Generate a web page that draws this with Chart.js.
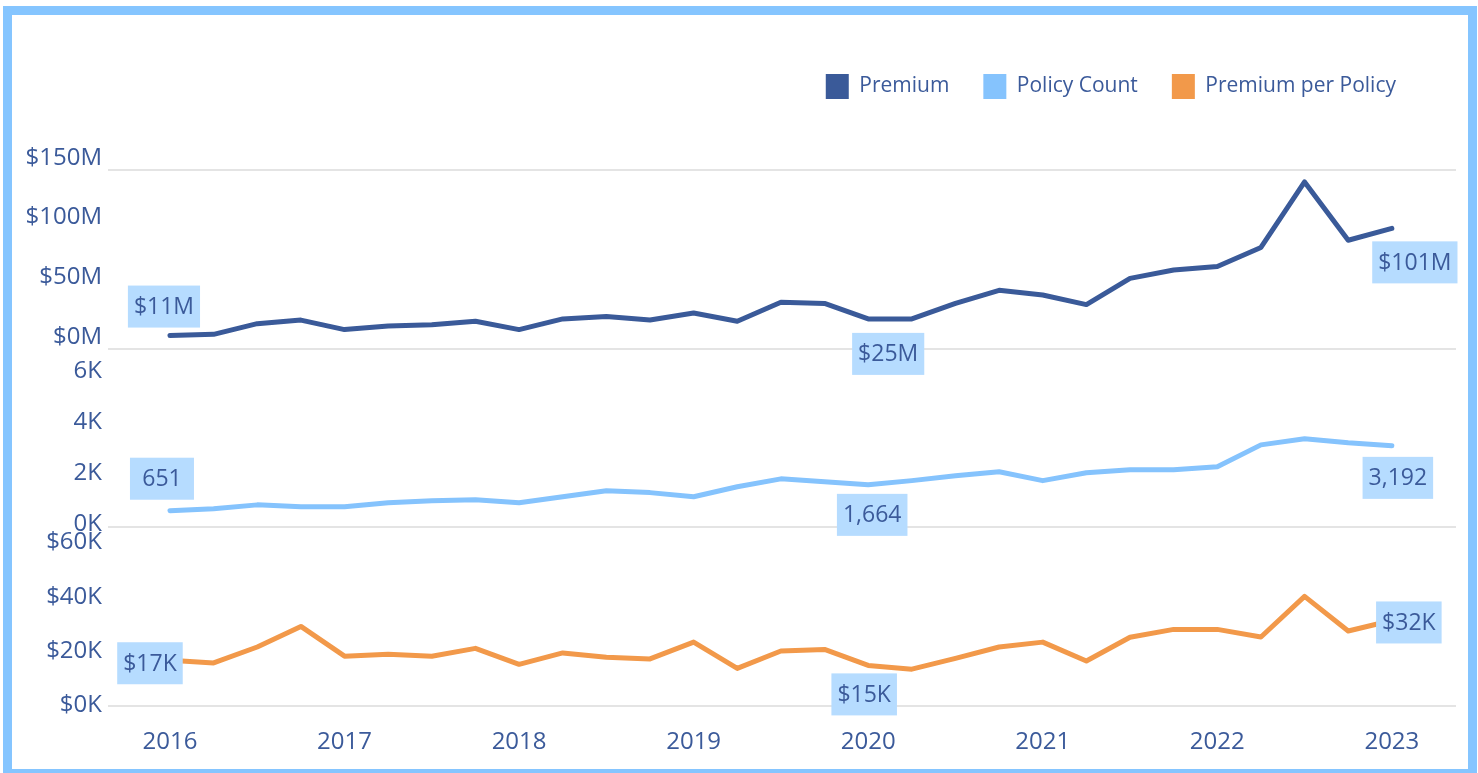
<!DOCTYPE html>
<html>
<head>
<meta charset="utf-8">
<script src="https://cdn.jsdelivr.net/npm/chart.js@4.4.0/dist/chart.umd.min.js"></script>
<style>
    html, body { margin: 0; padding: 0; background: #fff; }
    #wrap { position: relative; width: 1478px; height: 773px; overflow: hidden; }
    #frame { position: absolute; left: 3px; top: 6px; width: 1474px; height: 772px; box-sizing: border-box; border: 9px solid #85c5ff; pointer-events: none; }
    #grafico { position: absolute; left: 0; top: 0; }
</style>
</head>
<body>
<div id="wrap">
    <canvas id="grafico" width="1478" height="773" style="width:1478px;height:773px"></canvas>
    <div id="frame"></div>
</div>
<script>
// quarters on the x axis
var quarters = ['2016 Q1', '2016 Q2', '2016 Q3', '2016 Q4',
    '2017 Q1', '2017 Q2', '2017 Q3', '2017 Q4',
    '2018 Q1', '2018 Q2', '2018 Q3', '2018 Q4',
    '2019 Q1', '2019 Q2', '2019 Q3', '2019 Q4',
    '2020 Q1', '2020 Q2', '2020 Q3', '2020 Q4',
    '2021 Q1', '2021 Q2', '2021 Q3', '2021 Q4',
    '2022 Q1', '2022 Q2', '2022 Q3', '2022 Q4',
    '2023 Q1'];

// premium in $M
var premium = [11, 12, 21, 24, 16, 19, 20, 23, 16, 25, 27, 24, 30, 23, 39, 38, 25, 25, 38, 49, 45, 37, 59, 66, 69, 85, 140, 91, 101];
var policyCount = [651, 730, 880, 810, 810, 960, 1040, 1080, 960, 1200, 1430, 1360, 1200, 1590, 1900, 1790, 1664, 1830, 2020, 2180, 1830, 2140, 2260, 2260, 2370, 3230, 3470, 3310, 3192];
// premium per policy in $K
var premiumPerPolicy = [16.9, 15.9, 21.8, 29.4, 18.4, 19.1, 18.4, 21.3, 15.4, 19.6, 18.0, 17.4, 23.6, 13.9, 20.3, 20.9, 15.0, 13.6, 17.6, 21.8, 23.6, 16.6, 25.4, 28.3, 28.3, 25.5, 40.5, 27.7, 31.6];

var premiumTicks = [0, 50, 100, 150];
var countTicks = [0, 2000, 4000, 6000];
var pppTicks = [0, 20, 40, 60];

var corTexto = '#3b5a9a';
var fonte = 'Open Sans';

// which points get a value box, and where the box sits relative to the point
var rotulos = [
    { ds: 0, i: 0, dx: -6, dy: -29 },
    { ds: 0, i: 16, dx: 20, dy: 35 },
    { ds: 0, i: 28, dx: 23, dy: 34 },
    { ds: 1, i: 0, dx: -8, dy: -32 },
    { ds: 1, i: 16, dx: 4, dy: 30 },
    { ds: 1, i: 28, dx: 6, dy: 32 },
    { ds: 2, i: 0, dx: -20, dy: 3 },
    { ds: 2, i: 16, dx: -4, dy: 29 },
    { ds: 2, i: 28, dx: 17, dy: 2 }
];

function formatarPremium(v) { return '$' + v + 'M'; }
function formatarQtd(v) { return v.toLocaleString('en-US'); }
function formatarPpp(v) { return '$' + Math.round(v) + 'K'; }
var formatos = [formatarPremium, formatarQtd, formatarPpp];

function pontos(valores) {
    return valores.map(function (v, i) { return { x: i, y: v }; });
}

function gradeZero(extra) {
    return function (ctx) {
        if (ctx.tick && (ctx.tick.value === 0 || ctx.tick.value === extra)) {
            return '#e4e4e4';
        }
        return 'rgba(0,0,0,0)';
    };
}

function eixoY(ticks, max, labelOffset, formato, extra) {
    return {
        type: 'linear',
        position: 'left',
        stack: 'paineis',
        stackWeight: 1,
        min: 0,
        max: max,
        afterBuildTicks: function (axis) {
            axis.ticks = ticks.map(function (t) { return { value: t }; });
        },
        afterFit: function (axis) { axis.width = 90; },
        border: { display: false },
        grid: { color: gradeZero(extra), lineWidth: 2, drawTicks: false },
        ticks: {
            color: corTexto,
            font: { family: fonte, size: 24 },
            padding: 6,
            labelOffset: labelOffset,
            callback: formato
        }
    };
}

var rotulosPlugin = {
    id: 'rotulosValores',
    afterDatasetsDraw: function (chart) {
        var ctx = chart.ctx;
        ctx.save();
        ctx.font = '23px "' + fonte + '"';
        ctx.textAlign = 'center';
        ctx.textBaseline = 'middle';
        rotulos.forEach(function (r) {
            var pt = chart.getDatasetMeta(r.ds).data[r.i];
            var valor = chart.data.datasets[r.ds].data[r.i].y;
            var texto = formatos[r.ds](valor);
            var w = Math.max(64, ctx.measureText(texto).width + 12);
            var h = 42;
            var cx = pt.x + r.dx;
            var cy = pt.y + r.dy;
            ctx.fillStyle = '#b6dcff';
            ctx.fillRect(cx - w / 2, cy - h / 2, w, h);
            ctx.fillStyle = corTexto;
            ctx.fillText(texto, cx, cy + 1);
        });
        ctx.restore();
    }
};

var espacoLegenda = {
    id: 'espacoLegenda',
    beforeInit: function (chart) {
        var fitOriginal = chart.legend.fit;
        chart.legend.fit = function () {
            fitOriginal.call(this);
            this.height += 61;
        };
    },
    afterLayout: function (chart) {
        chart.legend.left -= 26;
        chart.legend.right -= 26;
    }
};

function gerarGrafico() {
    const data = {
        datasets: [
            {
                label: 'Premium',
                data: pontos(premium),
                yAxisID: 'yPremium',
                borderColor: '#3a5a99',
                backgroundColor: '#3a5a99'
            },
            {
                label: 'Policy Count',
                data: pontos(policyCount),
                yAxisID: 'yCount',
                borderColor: '#85c3fd',
                backgroundColor: '#85c3fd'
            },
            {
                label: 'Premium per Policy',
                data: pontos(premiumPerPolicy),
                yAxisID: 'yPpp',
                borderColor: '#f2994a',
                backgroundColor: '#f2994a'
            }
        ]
    };

    const config = {
        type: 'line',
        data: data,
        options: {
            responsive: false,
            animation: false,
            layout: { padding: { top: 40, left: 18, right: 22, bottom: 19 } },
            elements: {
                line: { borderWidth: 5, tension: 0, borderJoinStyle: 'round', borderCapStyle: 'round' },
                point: { radius: 0, hoverRadius: 0 }
            },
            plugins: {
                tooltip: { enabled: false },
                legend: {
                    display: true,
                    position: 'top',
                    align: 'end',
                    labels: {
                        boxWidth: 23,
                        boxHeight: 25,
                        padding: 34,
                        color: corTexto,
                        font: { family: fonte, size: 21 },
                        generateLabels: function (chart) {
                            var itens = Chart.defaults.plugins.legend.labels.generateLabels(chart);
                            itens.forEach(function (it) { it.lineWidth = 0; it.strokeStyle = 'rgba(0,0,0,0)'; });
                            return itens;
                        }
                    }
                }
            },
            scales: {
                x: {
                    type: 'linear',
                    min: -1.42,
                    max: 29.47,
                    afterBuildTicks: function (axis) {
                        var t = [];
                        quarters.forEach(function (q, i) {
                            if (q.indexOf('Q1') > 0) t.push({ value: i });
                        });
                        axis.ticks = t;
                    },
                    afterFit: function (axis) { axis.height = 48; },
                    border: { display: false },
                    grid: { display: false },
                    ticks: {
                        color: corTexto,
                        font: { family: fonte, size: 24 },
                        padding: 14,
                        maxRotation: 0,
                        autoSkip: false,
                        callback: function (v) { return quarters[v].slice(0, 4); }
                    }
                },
                yPpp: eixoY(pppTicks, 66, -1, function (v) { return '$' + v + 'K'; }),
                yCount: eixoY(countTicks, 7000, -3, function (v) { return (v / 1000) + 'K'; }),
                yPremium: eixoY(premiumTicks, 150, -12, function (v) { return '$' + v + 'M'; }, 150)
            }
        },
        plugins: [rotulosPlugin, espacoLegenda]
    };

    const grafico = new Chart(document.getElementById('grafico'), config);
}

gerarGrafico();
</script>
</body>
</html>
